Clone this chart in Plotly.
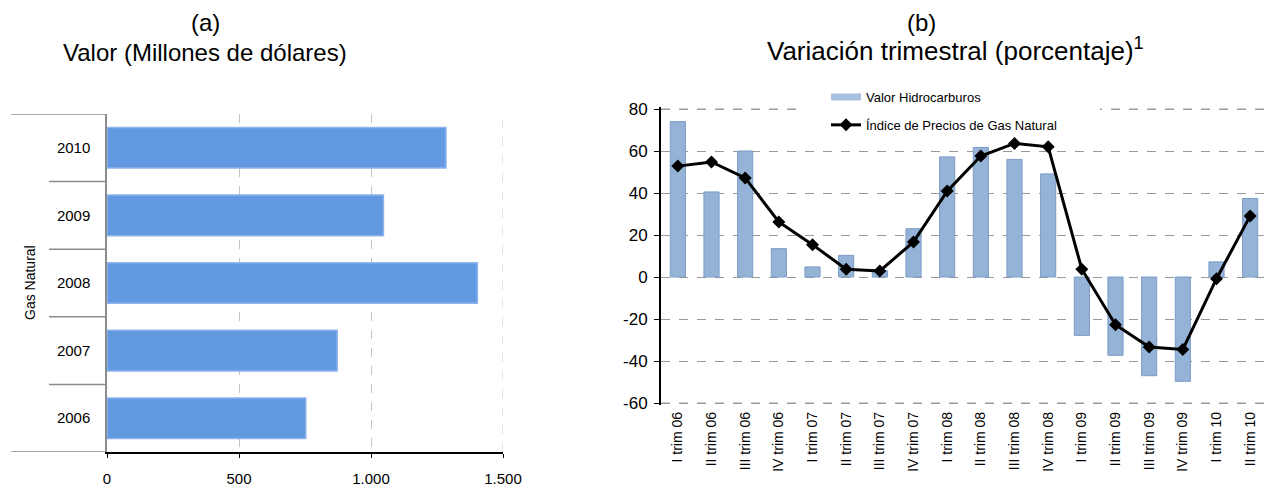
import plotly.graph_objects as go

W, H = 1271, 487

# Panel (a): annual natural gas value, million dollars
years = ["2006", "2007", "2008", "2009", "2010"]
valor_anual = [753, 872, 1403, 1047, 1284]
x_ticks_a = [0, 500, 1000, 1500]
x_ticktext_a = ["0", "500", "1.000", "1.500"]

# Panel (b): quarterly variation, percent
trimestres = [
    "I trim 06", "II trim 06", "III trim 06", "IV trim 06",
    "I trim 07", "II trim 07", "III trim 07", "IV trim 07",
    "I trim 08", "II trim 08", "III trim 08", "IV trim 08",
    "I trim 09", "II trim 09", "III trim 09", "IV trim 09",
    "I trim 10", "II trim 10",
]
valor_hidrocarburos = [74, 40.5, 60, 13.5, 4.8, 10.3, 3, 23,
                       57.2, 61.7, 56, 49.1, -27.8, -37.3, -47, -49.7,
                       7.2, 37.4]
indice_precios_gas = [52.8, 54.8, 47.2, 26.2, 15.4, 3.7, 2.9, 16.7,
                      40.9, 57.6, 63.6, 62, 3.7, -22.7, -33.3, -34.5,
                      -0.8, 29.1]
y_ticks_b = [-60, -40, -20, 0, 20, 40, 60, 80]
y_ticktext_b = ["-60", "-40", "-20", "0", "20", "40", "60", "80"]

FONT = "Liberation Sans, Arial, sans-serif"


def px_x(p):
    return p / W


def px_y(p):
    return 1 - p / H


# plot-area pixel boxes
a_left, a_right, a_top, a_bottom = 107, 503, 114, 452
b_left, b_right = 661, 1267
y80_px, ym60_px = 109, 403            # pixel rows of the 80 and -60 grid lines
pad = 1.0                             # small range padding
unit = (ym60_px - y80_px) / 140.0
b_ymin, b_ymax = -60 - pad, 80 + pad
b_top, b_bottom = y80_px - pad * unit, ym60_px + pad * unit
n_cat = len(trimestres)
cat_px = (b_right - b_left) / n_cat


def cat_x(p):
    """pixel column -> category coordinate on the quarterly axis"""
    return (p - b_left) / cat_px - 0.5


GRID_A = "#C4C4C4"
GRID_B = "#9A9A9A"

fig = go.Figure()

fig.add_trace(go.Bar(
    y=years, x=valor_anual, orientation="h",
    marker=dict(color="#6399E0", line=dict(color="#8DB4EC", width=1.5)),
    width=0.6, xaxis="x", yaxis="y", showlegend=False,
))

fig.add_trace(go.Bar(
    x=trimestres, y=valor_hidrocarburos,
    marker=dict(color="#95B3D7", line=dict(color="#7C9CC6", width=1)),
    width=0.45, xaxis="x2", yaxis="y2", showlegend=False,
    name="Valor Hidrocarburos",
))
# legend entry drawn as a flat bar swatch
fig.add_trace(go.Scatter(
    x=[None], y=[None], mode="lines", name="Valor Hidrocarburos",
    line=dict(color="#A7C0DE", width=7), xaxis="x2", yaxis="y2",
    legendgroup="a",
))
fig.add_trace(go.Scatter(
    x=trimestres, y=indice_precios_gas, mode="lines+markers",
    name="Índice de Precios de Gas Natural",
    line=dict(color="black", width=3),
    marker=dict(symbol="diamond", size=10, color="black"),
    xaxis="x2", yaxis="y2", legendgroup="b",
))

b_dom = [px_y(b_bottom), px_y(b_top)]
zero_pos = b_dom[0] + (0 - b_ymin) / (b_ymax - b_ymin) * (b_dom[1] - b_dom[0])

fig.update_layout(
    width=W, height=H,
    margin=dict(l=0, r=0, t=0, b=0, autoexpand=False),
    paper_bgcolor="white", plot_bgcolor="rgba(0,0,0,0)",
    font=dict(family=FONT, color="black", size=14),
    xaxis=dict(
        domain=[px_x(a_left), px_x(a_right)], range=[0, 1500],
        anchor="y", tickvals=x_ticks_a, ticktext=x_ticktext_a,
        showgrid=True, gridcolor=GRID_A, griddash="dash", gridwidth=1,
        showline=True, linecolor="black", linewidth=2,
        ticks="outside", ticklen=4, tickcolor="black", tickwidth=1,
        ticklabelstandoff=8, zeroline=False, automargin=False,
        tickfont=dict(size=15),
    ),
    yaxis=dict(
        domain=[px_y(a_bottom), px_y(a_top)], anchor="x",
        type="category", categoryorder="array", categoryarray=years,
        range=[-0.5, 4.5],
        showline=True, linecolor="#8C8C8C", linewidth=1.5,
        ticks="", showgrid=False, zeroline=False, automargin=False,
        ticklabelstandoff=12, tickfont=dict(size=15),
    ),
    xaxis2=dict(
        domain=[px_x(b_left), px_x(b_right)], anchor="y2",
        type="category", categoryorder="array", categoryarray=trimestres,
        range=[-0.5, n_cat - 0.5], automargin=False,
        showline=False, ticks="", showgrid=False, zeroline=False,
        tickangle=-90, tickfont=dict(size=14), ticklabelstandoff=3,
    ),
    xaxis3=dict(
        overlaying="x2", anchor="free", position=zero_pos,
        range=[-0.5, n_cat - 0.5], tickmode="linear", tick0=-0.5, dtick=1,
        showline=True, linecolor="black", linewidth=2,
        ticks="outside", ticklen=5, tickcolor="black", tickwidth=1,
        showticklabels=False, showgrid=False, zeroline=False,
        automargin=False,
    ),
    yaxis2=dict(
        domain=b_dom, anchor="x2", range=[b_ymin, b_ymax],
        tickvals=y_ticks_b, ticktext=y_ticktext_b,
        showgrid=True, gridcolor=GRID_B, griddash="dash", gridwidth=1,
        showline=True, linecolor="black", linewidth=2,
        ticks="outside", ticklen=5, tickcolor="black", tickwidth=1,
        zeroline=False, tickfont=dict(size=17), ticklabelstandoff=3,
        automargin=False,
    ),
    legend=dict(
        x=px_x(826), y=px_y(82), xanchor="left", yanchor="top",
        bgcolor="rgba(0,0,0,0)", font=dict(size=13, family=FONT),
        traceorder="grouped", tracegroupgap=8, itemwidth=30,
    ),
    showlegend=True,
)

# grid lines at the outer ticks of both panels
fig.add_shape(type="line", layer="between", xref="x", yref="y",
              x0=1500, x1=1500, y0=-0.5, y1=len(years) - 0.5,
              line=dict(color=GRID_A, width=1, dash="dash"))
for yv in (y_ticks_b[0], y_ticks_b[-1]):
    fig.add_shape(type="line", layer="between", xref="x2", yref="y2",
                  x0=-0.5, x1=n_cat - 0.5, y0=yv, y1=yv,
                  line=dict(color=GRID_B, width=1, dash="dash"))

# gap in the top grid line behind the legend
fig.add_shape(type="rect", layer="between", xref="x2", yref="y2",
              x0=cat_x(805), x1=cat_x(1100), y0=77, y1=b_ymax,
              fillcolor="white", line=dict(width=0))

# category separators of the grouped axis in panel (a)
for i in range(len(years) + 1):
    yv = i - 0.5
    outer = i in (0, len(years))
    fig.add_shape(type="line", xref="paper", yref="y",
                  x0=px_x(11 if outer else 49), x1=px_x(a_left),
                  y0=yv, y1=yv, line=dict(color="#8C8C8C", width=1.5))

ann = [
    dict(text="(a)", x=px_x(205), y=px_y(22), font=dict(size=24, family=FONT)),
    dict(text="Valor (Millones de dólares)", x=px_x(205), y=px_y(52),
         font=dict(size=24, family=FONT)),
    dict(text="(b)", x=px_x(921), y=px_y(22), font=dict(size=24, family=FONT)),
    dict(text="Variación trimestral (porcentaje)<sup>1</sup>", x=px_x(955), y=px_y(50),
         font=dict(size=26, family=FONT)),
]
for a in ann:
    fig.add_annotation(xref="paper", yref="paper", showarrow=False,
                       xanchor="center", yanchor="middle", **a)

fig.add_annotation(text="Gas Natural", xref="paper", yref="paper",
                   x=px_x(20), y=px_y((a_top + a_bottom) / 2),
                   textangle=-90, showarrow=False,
                   font=dict(size=14, family=FONT))

fig.write_html("out.html")
